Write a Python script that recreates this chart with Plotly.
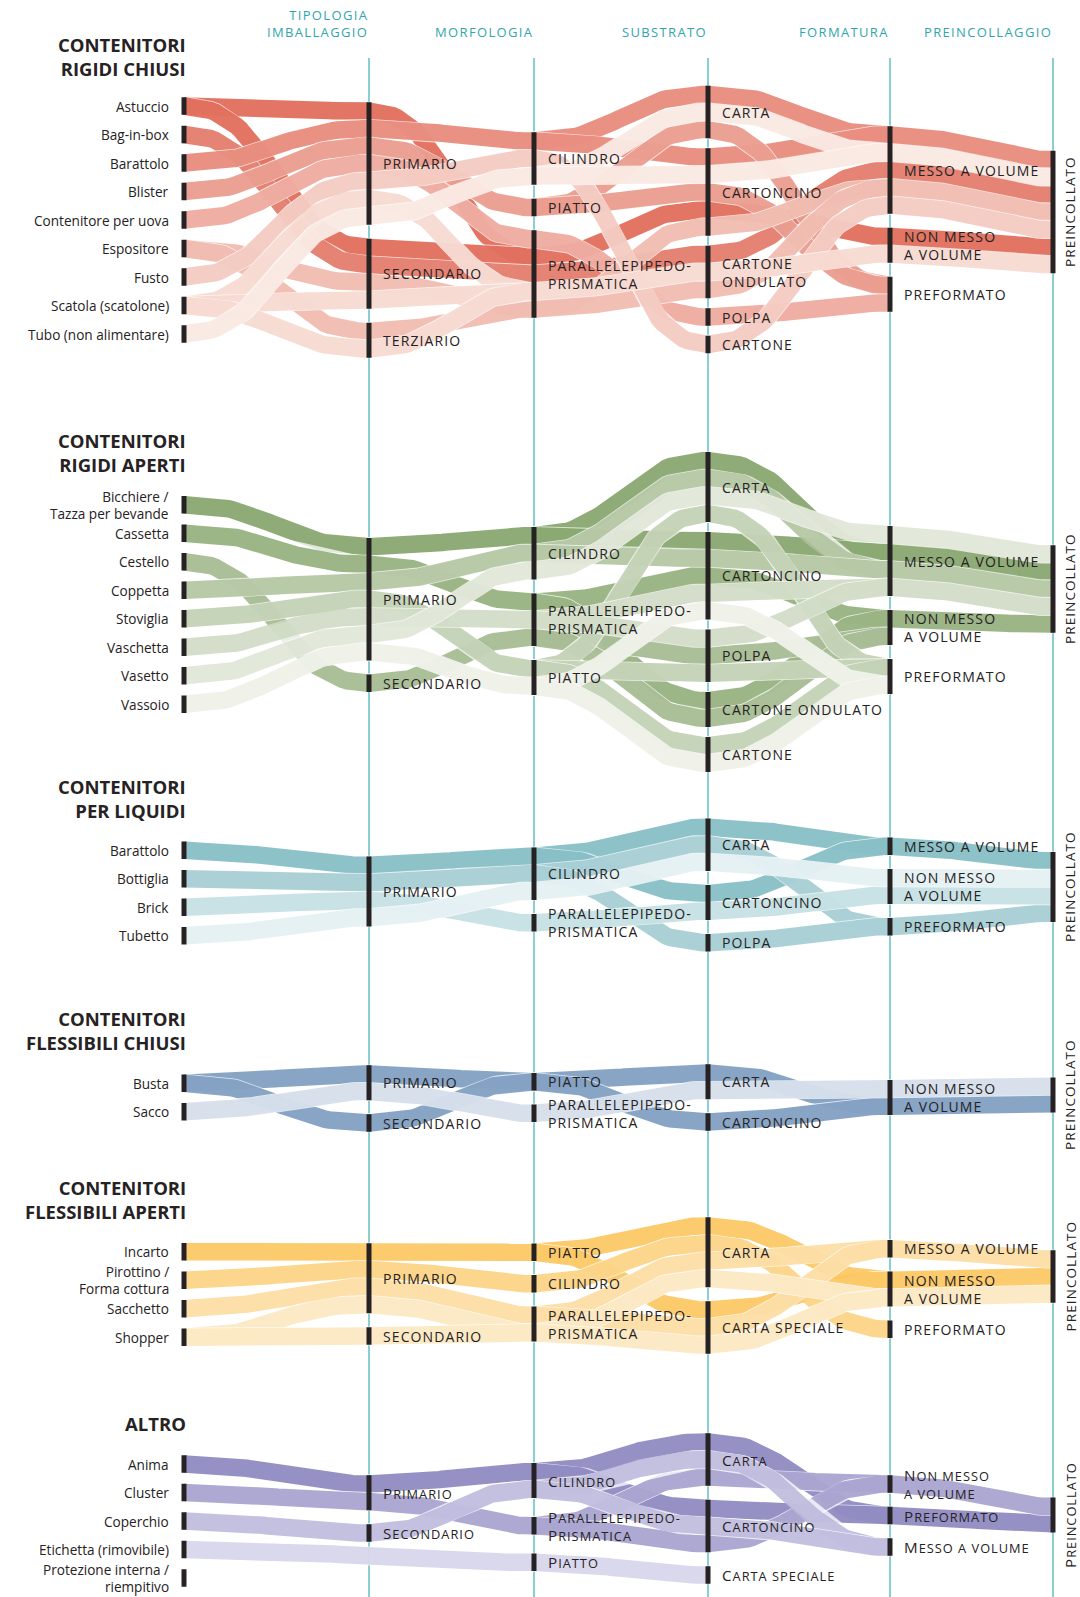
import numpy as np
import plotly.graph_objects as go

# ---------------------------------------------------------------- DATA
HEADERS = ["TIPOLOGIA<br>IMBALLAGGIO", "MORFOLOGIA", "SUBSTRATO", "FORMATURA", "PREINCOLLAGGIO"]

PRI, SEC, TER = "PRIMARIO", "SECONDARIO", "TERZIARIO"
CIL, PIA, PAR = "CILINDRO", "PIATTO", "PARALLELEPIPEDO-PRISMATICA"
CA, CN, CO, PO, CT, CS = "CARTA", "CARTONCINO", "CARTONE ONDULATO", "POLPA", "CARTONE", "CARTA SPECIALE"
MV, NMV, PF = "MESSO A VOLUME", "NON MESSO A VOLUME", "PREFORMATO"
PREINC = "PREINCOLLATO"

# 1 - Contenitori rigidi chiusi
RCH_TITLE = "CONTENITORI<br>RIGIDI CHIUSI"
RCH_PRODUCTS = ["Astuccio", "Bag-in-box", "Barattolo", "Blister", "Contenitore per uova",
                "Espositore", "Fusto", "Scatola (scatolone)", "Tubo (non alimentare)"]
RCH_TIPOLOGIA = [[PRI, SEC], [SEC], [PRI], [PRI], [PRI], [SEC, TER], [PRI], [PRI, SEC, TER], [PRI]]
RCH_MORFOLOGIA = [[PAR], [PAR], [CIL], [PIA], [PAR], [PAR], [CIL], [PAR], [CIL]]
RCH_SUBSTRATO = [[CN], [CO], [CA, CN], [CA, CN], [PO], [CN, CO], [CT], [CO], [CA, CN]]
RCH_FORMATURA = [[NMV], [MV], [MV], [PF], [PF], [MV], [MV], [NMV], [MV]]
RCH_PREINCOLLATO = [1, 1, 1, 0, 0, 1, 1, 1, 1]
RCH_NODES = [[PRI, SEC, TER], [CIL, PIA, PAR], [CA, CN, CO, PO, CT], [MV, NMV, PF], [PREINC]]

# 2 - Contenitori rigidi aperti
RAP_TITLE = "CONTENITORI<br>RIGIDI APERTI"
RAP_PRODUCTS = ["Bicchiere /<br>Tazza per bevande", "Cassetta", "Cestello", "Coppetta", "Stoviglia",
                "Vaschetta", "Vasetto", "Vassoio"]
RAP_TIPOLOGIA = [[PRI], [PRI], [SEC], [PRI], [PRI], [PRI], [PRI], [PRI]]
RAP_MORFOLOGIA = [[CIL], [PAR], [PAR], [CIL], [PIA], [PAR], [CIL], [PIA]]
RAP_SUBSTRATO = [[CA, CN], [CN, CO], [PO, CO], [CA, CN], [CA, PO, CT], [CN, PO], [CA], [CN, CT]]
RAP_FORMATURA = [[MV], [NMV], [NMV], [MV], [PF], [MV], [MV], [PF]]
RAP_PREINCOLLATO = [1, 1, 0, 1, 0, 1, 1, 0]
RAP_NODES = [[PRI, SEC], [CIL, PAR, PIA], [CA, CN, PO, CO, CT], [MV, NMV, PF], [PREINC]]

# 3 - Contenitori per liquidi
LIQ_TITLE = "CONTENITORI<br>PER LIQUIDI"
LIQ_PRODUCTS = ["Barattolo", "Bottiglia", "Brick", "Tubetto"]
LIQ_TIPOLOGIA = [[PRI], [PRI], [PRI], [PRI]]
LIQ_MORFOLOGIA = [[CIL], [CIL], [PAR], [CIL]]
LIQ_SUBSTRATO = [[CA, CN], [CA, PO], [CN], [CA]]
LIQ_FORMATURA = [[MV], [PF], [NMV], [NMV]]
LIQ_PREINCOLLATO = [1, 1, 1, 1]
LIQ_NODES = [[PRI], [CIL, PAR], [CA, CN, PO], [MV, NMV, PF], [PREINC]]

# 4 - Contenitori flessibili chiusi
FCH_TITLE = "CONTENITORI<br>FLESSIBILI CHIUSI"
FCH_PRODUCTS = ["Busta", "Sacco"]
FCH_TIPOLOGIA = [[PRI, SEC], [PRI]]
FCH_MORFOLOGIA = [[PIA], [PAR]]
FCH_SUBSTRATO = [[CA, CN], [CA]]
FCH_FORMATURA = [[NMV], [NMV]]
FCH_PREINCOLLATO = [1, 1]
FCH_NODES = [[PRI, SEC], [PIA, PAR], [CA, CN], [NMV], [PREINC]]

# 5 - Contenitori flessibili aperti
FAP_TITLE = "CONTENITORI<br>FLESSIBILI APERTI"
FAP_PRODUCTS = ["Incarto", "Pirottino /<br>Forma cottura", "Sacchetto", "Shopper"]
FAP_TIPOLOGIA = [[PRI], [PRI], [PRI], [PRI, SEC]]
FAP_MORFOLOGIA = [[PIA], [CIL], [PAR], [PAR]]
FAP_SUBSTRATO = [[CA, CS], [CA], [CA, CS], [CA, CS]]
FAP_FORMATURA = [[NMV], [PF], [MV], [NMV]]
FAP_PREINCOLLATO = [1, 0, 1, 1]
FAP_NODES = [[PRI, SEC], [PIA, CIL, PAR], [CA, CS], [MV, NMV, PF], [PREINC]]

# 6 - Altro
ALT_TITLE = "ALTRO"
ALT_PRODUCTS = ["Anima", "Cluster", "Coperchio", "Etichetta (rimovibile)", "Protezione interna /<br>riempitivo"]
ALT_TIPOLOGIA = [[PRI], [PRI], [SEC], [], []]
ALT_MORFOLOGIA = [[CIL], [PAR], [CIL], [PIA], []]
ALT_SUBSTRATO = [[CA, CN], [CA, CN], [CA, CN], [CS], []]
ALT_FORMATURA = [[PF], [NMV], [MV], [], []]
ALT_PREINCOLLATO = [1, 1, 0, 0, 0]
ALT_NODES = [[PRI, SEC], [CIL, PAR, PIA], [CA, CN, CS], [NMV, PF, MV], [PREINC]]

GROUPS = [
    (RCH_TITLE, RCH_PRODUCTS, [RCH_TIPOLOGIA, RCH_MORFOLOGIA, RCH_SUBSTRATO, RCH_FORMATURA], RCH_PREINCOLLATO, RCH_NODES),
    (RAP_TITLE, RAP_PRODUCTS, [RAP_TIPOLOGIA, RAP_MORFOLOGIA, RAP_SUBSTRATO, RAP_FORMATURA], RAP_PREINCOLLATO, RAP_NODES),
    (LIQ_TITLE, LIQ_PRODUCTS, [LIQ_TIPOLOGIA, LIQ_MORFOLOGIA, LIQ_SUBSTRATO, LIQ_FORMATURA], LIQ_PREINCOLLATO, LIQ_NODES),
    (FCH_TITLE, FCH_PRODUCTS, [FCH_TIPOLOGIA, FCH_MORFOLOGIA, FCH_SUBSTRATO, FCH_FORMATURA], FCH_PREINCOLLATO, FCH_NODES),
    (FAP_TITLE, FAP_PRODUCTS, [FAP_TIPOLOGIA, FAP_MORFOLOGIA, FAP_SUBSTRATO, FAP_FORMATURA], FAP_PREINCOLLATO, FAP_NODES),
    (ALT_TITLE, ALT_PRODUCTS, [ALT_TIPOLOGIA, ALT_MORFOLOGIA, ALT_SUBSTRATO, ALT_FORMATURA], ALT_PREINCOLLATO, ALT_NODES),
]

# ---------------------------------------------------------------- STYLE / LAYOUT
W, H = 1080, 1597
COL_X = [184, 369, 534, 708, 890, 1053]
UNIT = 17.5
PITCH = 28.5
COL_CENTERS = [
    [220, 230, 225, 219.5, 219, 212],
    [604.5, 615, 611, 612, 610, 589],
    [893, 891.5, 889.5, 885, 886.5, 887],
    [1097.5, 1098.5, 1097.5, 1097.5, 1097.5, 1095],
    [1294.5, 1294, 1292.5, 1285.5, 1289, 1276.5],
    [1521, 1508.5, 1517, 1508.5, 1515.5, 1515],
]
GAP_OVERRIDE = {(5, 2): 19}
TITLE_Y = [56.5, 452, 798, 1030, 1199, 1423]
BASE = [(222, 94, 74), (125, 158, 98), (122, 184, 192), (118, 150, 189), (252, 195, 86), (132, 127, 188)]
LIGHT = [(249, 231, 224), (237, 240, 231), (226, 239, 242), (210, 219, 233), (252, 230, 190), (212, 210, 234)]
TWO_LINE = {PAR: "PARALLELEPIPEDO-<br>PRISMATICA", NMV: "NON MESSO<br>A VOLUME"}
SMALLCAPS_GROUP = 5
FONT = "Open Sans, Noto Sans, sans-serif"
INK = "#262223"
TEAL_TXT = "#2fa6ae"
TEAL_LINE = "#4cb4bb"


def styled(txt, size, ls=0.0, bold=False):
    s = f'<span style="font-size:{size}px;letter-spacing:{ls}px">{txt}</span>'
    return f"<b>{s}</b>" if bold else s


def smallcaps(txt, big=15.2, small=12.8, ls=1.0):
    runs = []
    for ch in txt:
        isbig = ch.isupper()
        if runs and runs[-1][0] == isbig:
            runs[-1][1] += ch
        else:
            runs.append([isbig, ch])
    return "".join(styled(s.upper(), big if b else small, ls) for b, s in runs)


def ribbon_xy(x0, y0, x1, y1, n=48):
    t = np.linspace(0, 1, n)
    dx = (x1 - x0) * 0.5
    X = (1 - t) ** 3 * x0 + 3 * (1 - t) ** 2 * t * (x0 + dx) + 3 * (1 - t) * t ** 2 * (x1 - dx) + t ** 3 * x1
    Y = (1 - t) ** 3 * y0 + 3 * (1 - t) ** 2 * t * y0 + 3 * (1 - t) * t ** 2 * y1 + t ** 3 * y1
    return X, Y


fig = go.Figure()
annotations = []


def add_text(x, y, text, spacing, xanchor, color, fmt, align="left", textangle=0):
    # base font size only controls line spacing; glyph size is set by the span styles
    lines = text.split("<br>")
    a = dict(x=x, y=y, xref="x", yref="y", xanchor=xanchor, yanchor="middle",
             text="<br>".join(fmt(ln) for ln in lines), showarrow=False, align=align,
             font=dict(family=FONT, size=spacing / 1.3, color=color))
    if textangle:
        a["textangle"] = textangle
    annotations.append(a)


# vertical guide lines
gx, gy = [], []
for x in COL_X[1:]:
    gx += [x, x, None]
    gy += [58, H, None]
fig.add_trace(go.Scatter(x=gx, y=gy, mode="lines", line=dict(color=TEAL_LINE, width=1.3),
                         hoverinfo="skip", showlegend=False))

for j, h in enumerate(HEADERS):
    nl = len(h.split("<br>"))
    add_text(COL_X[j + 1] + 1, 32 - (nl - 1) * 16.5 / 2, h, 16.5, "right", TEAL_TXT,
             lambda s: styled(s, 13, 1.35), align="right")

bar_x, bar_y = [], []

for g, (title, products, cols, pre, node_orders) in enumerate(GROUPS):
    n = len(products)
    centers = COL_CENTERS[g]
    col_values = cols + [[[PREINC] if p else [] for p in pre]]
    has_flow = [any(len(cv[i]) for cv in col_values) for i in range(n)]
    last_i = max(i for i in range(n) if has_flow[i])
    colors = []
    for i in range(n):
        t = min(1.0, i / max(1, last_i))
        c = [round(BASE[g][k] + (LIGHT[g][k] - BASE[g][k]) * t) for k in range(3)]
        colors.append(f"rgba({c[0]},{c[1]},{c[2]},0.86)")

    sc = g == SMALLCAPS_GROUP

    # title
    add_text(188, TITLE_Y[g], title, 23.5, "right", INK, lambda s: styled(s, 18.5, 0, bold=True), align="right")

    # product column
    last_slots, last_col = {}, {}
    for i in range(n):
        yc = centers[0] + (i - (n - 1) / 2) * PITCH
        last_slots[i] = [(yc - UNIT / 2, yc + UNIT / 2)]
        last_col[i] = 0
        bar_x += [COL_X[0], COL_X[0], None]
        bar_y += [yc - UNIT / 2, yc + UNIT / 2, None]
        add_text(171, yc, products[i], 17.3, "right", INK, lambda s: styled(s, 13.6), align="right")

    links = []  # (product, x0, y0, x1, y1)
    for c in range(1, 6):
        values = col_values[c - 1]
        order = node_orders[c - 1]
        members = {v: [i for i in range(n) if v in values[i]] for v in order}
        used = [v for v in order if members[v]]
        k = len(used)
        gap = GAP_OVERRIDE.get((g, c), 14 if k <= 3 else 10)
        total = sum(len(members[v]) for v in used) * UNIT + gap * (k - 1)
        y = centers[c] - total / 2
        slots = {}
        for v in used:
            mem = sorted(members[v], key=lambda i: (np.mean([(a + b) / 2 for a, b in last_slots[i]]), i))
            top = y
            for i in mem:
                slots[(i, v)] = (y, y + UNIT)
                y += UNIT
            bar_x += [COL_X[c], COL_X[c], None]
            bar_y += [top, y, None]
            if sc:
                lab = v.capitalize().replace("-prismatica", "-Prismatica")
                lab = lab.replace("Parallelepipedo-Prismatica", "Parallelepipedo-<br>Prismatica").replace(
                    "Non messo a volume", "Non messo<br>a volume")
                fmt = smallcaps
                spacing = 17.5
            else:
                lab = TWO_LINE.get(v, v)
                if g == 0 and v == CO:
                    lab = "CARTONE<br>ONDULATO"
                fmt = lambda s: styled(s, 14, 1.1)
                spacing = 18.3
            if c < 5:
                add_text(COL_X[c] + 12, (top + y) / 2, lab, spacing, "left", INK, fmt)
            else:
                add_text(COL_X[c] + 17, (top + y) / 2, lab, spacing, "center", INK,
                         (lambda s: smallcaps(s, 15.2, 12.8)) if sc else (lambda s: styled(s, 13.5, 1.1)),
                         align="center", textangle=-90)
            y += gap
        for i in range(n):
            if values[i]:
                new = [slots[(i, v)] for v in values[i]]
                for (a0, b0) in last_slots[i]:
                    for (a1, b1) in new:
                        links.append((i, COL_X[last_col[i]], (a0 + b0) / 2, COL_X[c], (a1 + b1) / 2))
                last_slots[i] = new
                last_col[i] = c

    links.sort(key=lambda L: L[0])
    for (i, x0, y0, x1, y1) in links:
        X, Y = ribbon_xy(x0, y0, x1, y1)
        fig.add_trace(go.Scatter(x=X, y=Y, mode="lines", line=dict(color="rgba(255,255,255,0.75)", width=UNIT + 1.6),
                                 hoverinfo="skip", showlegend=False))
        fig.add_trace(go.Scatter(x=X, y=Y, mode="lines", line=dict(color=colors[i], width=UNIT),
                                 hoverinfo="skip", showlegend=False))

fig.add_trace(go.Scatter(x=bar_x, y=bar_y, mode="lines", line=dict(color=INK, width=5),
                         hoverinfo="skip", showlegend=False))

fig.update_layout(
    width=W, height=H, margin=dict(l=0, r=0, t=0, b=0),
    paper_bgcolor="white", plot_bgcolor="white",
    xaxis=dict(range=[0, W], visible=False, fixedrange=True),
    yaxis=dict(range=[H, 0], visible=False, fixedrange=True),
    showlegend=False, annotations=annotations,
)

fig.write_html("out.html", config={"displayModeBar": False},
               post_script="document.body.style.margin='0';")
